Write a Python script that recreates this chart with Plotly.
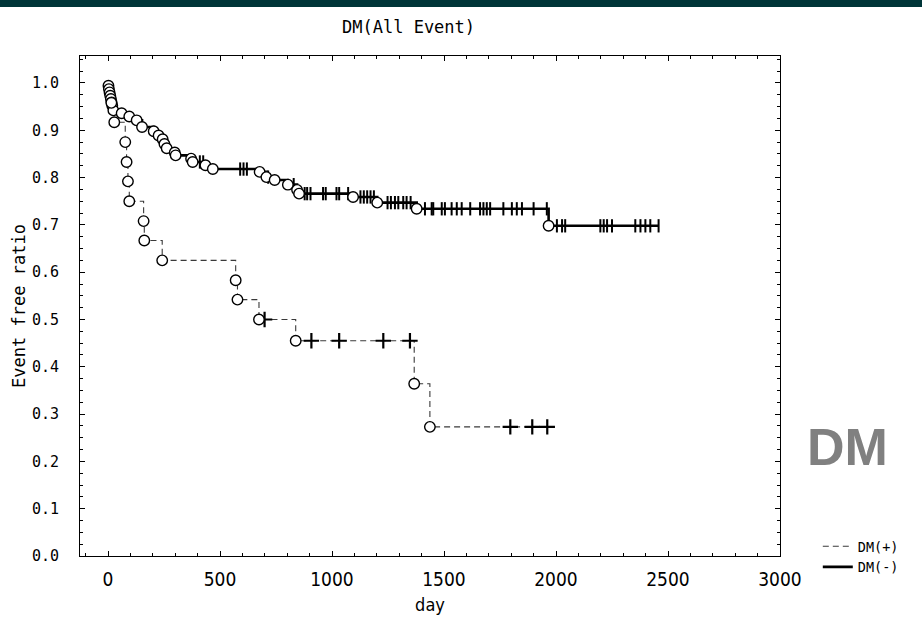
import plotly.graph_objects as go

# ---------------- data ----------------
# DM(+) group : event (drop) points and censored points
dmp_event_days = [15, 28, 77, 83, 89, 95, 159, 162, 242, 570, 578, 674, 838, 1367, 1437]
dmp_event_surv = [0.958, 0.917, 0.875, 0.833, 0.792, 0.750, 0.708, 0.667, 0.625,
                  0.583, 0.542, 0.500, 0.455, 0.364, 0.273]
dmp_cens_days = [699, 908, 1032, 1229, 1348, 1796, 1894, 1961]
dmp_cens_surv = [0.500, 0.455, 0.455, 0.455, 0.455, 0.273, 0.273, 0.273]

# DM(-) group
dmm_event_days = [2, 4, 7, 10, 13, 16, 19, 24, 61, 95, 128, 152, 204, 226, 244, 252,
                  262, 298, 302, 371, 378, 435, 468, 677, 707, 744, 803, 844, 853,
                  1094, 1202, 1378, 1967]
dmm_event_surv = [0.994, 0.987, 0.980, 0.973, 0.966, 0.959, 0.952, 0.942, 0.936, 0.929,
                  0.921, 0.907, 0.898, 0.889, 0.881, 0.871, 0.862, 0.853, 0.847, 0.840,
                  0.833, 0.826, 0.818, 0.812, 0.801, 0.795, 0.785, 0.774, 0.766, 0.759,
                  0.747, 0.734, 0.698]
dmm_cens_days = [410, 425, 590, 605, 620, 715, 829,
                 878, 889, 904, 960, 972, 1020, 1032, 1072,
                 1127, 1142, 1157, 1172, 1187,
                 1248, 1263, 1281, 1296, 1318, 1333, 1351,
                 1415, 1445, 1452, 1490, 1504, 1534, 1557, 1579, 1617, 1661, 1676, 1691,
                 1706, 1765, 1803, 1825, 1848, 1900, 1959,
                 2004, 2027, 2041, 2198, 2213, 2228, 2250, 2354, 2377, 2399, 2421, 2458]
dmm_cens_surv = [0.833, 0.833, 0.818, 0.818, 0.818, 0.801, 0.785,
                 0.766, 0.766, 0.766, 0.766, 0.766, 0.766, 0.766, 0.766,
                 0.759, 0.759, 0.759, 0.759, 0.759,
                 0.747, 0.747, 0.747, 0.747, 0.747, 0.747, 0.747,
                 0.734, 0.734, 0.734, 0.734, 0.734, 0.734, 0.734, 0.734, 0.734, 0.734,
                 0.734, 0.734, 0.734, 0.734, 0.734, 0.734, 0.734, 0.734, 0.734,
                 0.698, 0.698, 0.698, 0.698, 0.698, 0.698, 0.698, 0.698, 0.698, 0.698,
                 0.698, 0.698]

x_tick_vals = [0, 500, 1000, 1500, 2000, 2500, 3000]
x_tick_text = ["0", "500", "1000", "1500", "2000", "2500", "3000"]
y_tick_vals = [0.0, 0.1, 0.2, 0.3, 0.4, 0.5, 0.6, 0.7, 0.8, 0.9, 1.0]
y_tick_text = ["0.0", "0.1", "0.2", "0.3", "0.4", "0.5", "0.6", "0.7", "0.8", "0.9", "1.0"]

NARROW = "Liberation Sans Narrow, Arial Narrow, DejaVu Sans Condensed, sans-serif"
MONO = "DejaVu Sans Mono, Liberation Mono, monospace"


def step_xy(ev_days, ev_surv, cens_days):
    xs = [0] + list(ev_days)
    ys = [1.0] + list(ev_surv)
    end = max(list(ev_days) + list(cens_days))
    xs.append(end)
    ys.append(ys[-1])
    return xs, ys


fig = go.Figure()

mx, my = step_xy(dmm_event_days, dmm_event_surv, dmm_cens_days)
px_, py_ = step_xy(dmp_event_days, dmp_event_surv, dmp_cens_days)

fig.add_trace(go.Scatter(x=px_, y=py_, mode="lines", line_shape="hv",
                         line=dict(color="#3a3a3a", width=1.1, dash="6px,4px"),
                         name="DM(+)", showlegend=True, hoverinfo="skip"))
fig.add_trace(go.Scatter(x=mx, y=my, mode="lines", line_shape="hv",
                         line=dict(color="black", width=2.6),
                         name="DM(-)", showlegend=True, hoverinfo="skip"))

# censor marks
fig.add_trace(go.Scatter(x=dmm_cens_days, y=dmm_cens_surv, mode="markers",
                         marker=dict(symbol="line-ns", size=9.5,
                                     line=dict(color="black", width=2)),
                         showlegend=False))
fig.add_trace(go.Scatter(x=dmp_cens_days, y=dmp_cens_surv, mode="markers",
                         marker=dict(symbol="cross-thin", size=11,
                                     line=dict(color="black", width=2.2)),
                         showlegend=False))

# event circles
fig.add_trace(go.Scatter(x=dmm_event_days, y=dmm_event_surv, mode="markers",
                         marker=dict(symbol="circle", size=10.5, color="white",
                                     line=dict(color="black", width=1.4)),
                         showlegend=False))
fig.add_trace(go.Scatter(x=dmp_event_days, y=dmp_event_surv, mode="markers",
                         marker=dict(symbol="circle", size=10.5, color="white",
                                     line=dict(color="black", width=1.4)),
                         showlegend=False))

fig.update_xaxes(
    range=[-125, 3000], tickmode="array", tickvals=x_tick_vals, ticktext=x_tick_text,
    ticks="inside", ticklen=5, tickcolor="black", tickwidth=1,
    minor=dict(tickmode="linear", tick0=0, dtick=100, ticks="inside", ticklen=3,
               tickcolor="black"),
    showline=True, linecolor="black", linewidth=1, mirror="ticks",
    showgrid=False, zeroline=False,
    tickfont=dict(family=NARROW, size=19, color="black"), ticklabelstandoff=6,
    title=dict(text="day", font=dict(family=NARROW, size=18, color="black"), standoff=9),
)
fig.update_yaxes(
    range=[0, 1.057], tickmode="array", tickvals=y_tick_vals, ticktext=y_tick_text,
    ticks="inside", ticklen=5, tickcolor="black", tickwidth=1,
    minor=dict(tickmode="linear", tick0=0, dtick=0.025, ticks="inside", ticklen=3,
               tickcolor="black"),
    showline=True, linecolor="black", linewidth=1, mirror="ticks",
    showgrid=False, zeroline=False,
    tickfont=dict(family=MONO, size=15, color="black"), ticklabelstandoff=17,
    title=dict(text="Event free ratio", font=dict(family=MONO, size=17, color="black"),
               standoff=1),
)

fig.update_layout(
    width=922, height=626,
    margin=dict(l=80, r=142, t=56, b=70),
    paper_bgcolor="white", plot_bgcolor="white",
    showlegend=True,
    legend=dict(x=1.054, y=0.05, xanchor="left", yanchor="top",
                font=dict(family=MONO, size=13.5, color="black"),
                bgcolor="rgba(0,0,0,0)", itemwidth=30, tracegroupgap=0),
    shapes=[dict(type="rect", xref="paper", yref="paper", x0=-0.12, x1=1.21,
                 y0=1.098, y1=1.12, fillcolor="#003538", line=dict(width=0),
                 layer="above")],
    annotations=[
        dict(text="DM(All Event)", xref="paper", yref="paper", x=0.469, y=1.058,
             showarrow=False, xanchor="center", yanchor="middle",
             font=dict(family=MONO, size=17, color="black")),
        dict(text="<b>DM</b>", xref="paper", yref="paper", x=1.096, y=0.218,
             showarrow=False, xanchor="center", yanchor="middle",
             font=dict(family="Liberation Sans, Arial, sans-serif", size=52,
                       color="#808080")),
    ],
)

fig.write_html("out.html",
               config={"displayModeBar": False},
               post_script="document.body.style.margin='0px';"
                           "document.body.style.overflow='hidden';")
